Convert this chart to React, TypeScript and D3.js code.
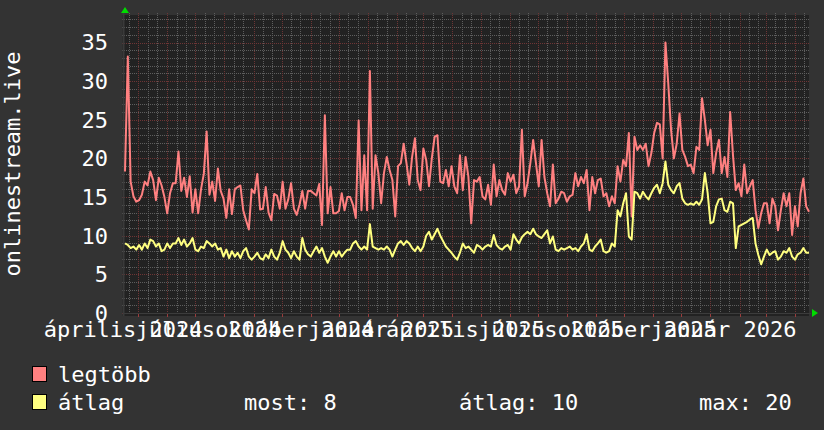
import React from "react";
import * as d3 from "d3";

const START_DATE = "2024-04-17";
const END_DATE = "2026-04-16";
const STEP_DAYS = 3;

const legtobb = [
  18.3, 33.2, 17, 15.1, 14.4, 14.6, 15.3, 17, 16.5, 18.3, 17.2, 14.6, 17.5, 16.5, 15, 12.9, 15.5, 16.8, 16.8, 20.9,
  15.8, 17.5, 15, 17.7, 13, 16, 12.9, 16, 18, 23.5, 15.3, 17, 14.5, 18.7, 15.8, 14.8, 12.3, 16, 12.8, 16,
  16.3, 16.5, 13.3, 12, 10.8, 16, 15.5, 18, 13.4, 13.5, 16.3, 13, 12, 15.4, 15.2, 13.5, 17, 13.5, 14.7, 16.8,
  13.5, 12.7, 14, 15.8, 13.5, 15.8, 15.8, 15.5, 15.2, 16.7, 11.4, 25.6, 12.9, 16.3, 12.9, 12.9, 13.2, 15.5, 13.3, 15,
  15, 14, 12.3, 24.9, 13.3, 20.4, 13.3, 31.3, 13.5, 20.4, 18.1, 14.2, 18.1, 20.2, 18.5, 17.2, 12.5, 19, 19.4, 21.9,
  19.4, 16.6, 20.2, 22.6, 17.2, 15.9, 21.3, 19.8, 16.4, 20, 22.8, 23, 17, 16.8, 18.5, 16.4, 19, 16.4, 15.5, 20.4,
  15.9, 20.2, 17.6, 11.6, 17.2, 17, 17.6, 15.1, 14.7, 16.6, 14, 19.2, 15.1, 17.2, 15.9, 15.3, 18.1, 17, 17.9, 15.5,
  16.4, 23.7, 15.1, 16.8, 19.4, 22.4, 19.4, 16.4, 22.4, 17.6, 15.5, 13.8, 19.2, 14.2, 14.8, 15.7, 15.5, 14.4, 15.1, 15.3,
  18.1, 16.4, 17.6, 16.8, 18.5, 13.3, 17.6, 15.5, 17.2, 17.4, 15.1, 15.5, 13.8, 15.1, 14.2, 19, 17, 19.8, 19, 23.3,
  12.5, 22.8, 21.1, 21.7, 21.1, 21.9, 19, 20.7, 23.3, 24.6, 24.4, 20, 35, 29.7, 23.7, 20, 21.9, 25.8, 21.1, 20.2,
  19, 19.2, 18.1, 21.5, 21.1, 27.8, 25, 21.7, 23.7, 18.1, 20.7, 22.4, 18.1, 20.2, 17.6, 26, 20.4, 15.9, 16.8, 15.1,
  19.2, 15.5, 16.4, 17.2, 13.3, 11, 12.9, 14.2, 14.2, 11.6, 14.8, 13.8, 10.7, 13.3, 15.5, 13.8, 15.5, 10.1, 13.8, 11.2,
  15.5, 17.4, 13.8, 13.1,
];

const atlag = [
  9.0, 8.8, 8.4, 8.6, 8.2, 8.8, 8.2, 9.0, 8.4, 9.5, 9.3, 8.6, 9.0, 8.0, 8.2, 9.0, 8.4, 9.0, 9.0, 9.7,
  8.8, 9.5, 8.6, 9.0, 9.7, 8.2, 8.0, 8.6, 8.4, 9.3, 9.0, 8.6, 9.0, 8.2, 8.4, 7.3, 8.2, 7.1, 8.0, 7.3,
  7.8, 7.1, 8.0, 8.4, 7.3, 6.9, 7.3, 7.8, 7.1, 6.9, 7.6, 7.1, 8.2, 7.3, 6.9, 7.8, 9.3, 8.2, 7.8, 7.1,
  8.0, 7.3, 6.9, 9.7, 8.2, 7.6, 7.3, 8.0, 8.6, 7.8, 8.4, 7.3, 6.5, 7.3, 8.0, 7.3, 8.0, 7.3, 7.8, 8.2,
  8.2, 9.0, 9.3, 8.6, 8.2, 8.6, 8.2, 11.5, 8.6, 8.4, 8.2, 8.4, 8.2, 8.6, 8.2, 7.3, 8.2, 9.0, 9.3, 8.8,
  9.3, 9.0, 8.4, 8.0, 8.6, 8.0, 8.6, 10.0, 10.5, 9.5, 10.2, 10.9, 10.0, 9.3, 8.6, 8.2, 7.8, 7.3, 6.9, 7.8,
  9.0, 8.4, 8.6, 8.2, 7.8, 8.8, 8.6, 8.2, 8.6, 8.8, 8.6, 10.1, 8.8, 8.4, 8.2, 8.6, 8.8, 8.2, 10.2, 9.5,
  9.0, 9.8, 10.2, 10.5, 10.2, 10.9, 10.2, 9.9, 9.7, 10.2, 10.7, 9.0, 9.9, 8.2, 8.0, 8.4, 8.2, 8.4, 8.6, 8.2,
  8.4, 8.0, 8.6, 9.0, 10.2, 8.2, 8.0, 8.6, 9.0, 9.5, 8.0, 7.8, 8.0, 9.0, 8.6, 13.3, 12.5, 14.2, 15.5, 9.9,
  9.5, 15.7, 15.5, 14.8, 15.7, 15.1, 14.7, 15.5, 16.2, 16.6, 15.5, 16.8, 19.6, 16.6, 15.9, 15.5, 16.4, 16.8, 14.8, 14.2,
  14.0, 14.2, 14.0, 14.4, 14.0, 14.7, 18.1, 15.5, 11.6, 11.8, 13.8, 14.7, 14.8, 13.3, 13.1, 14.4, 14.2, 8.4, 11.2, 11.4,
  11.6, 11.8, 12.1, 12.3, 9.0, 7.5, 6.3, 7.3, 8.2, 7.5, 7.8, 8.0, 6.9, 7.3, 8.0, 7.8, 8.4, 7.3, 6.9, 7.6,
  7.8, 8.4, 7.8, 7.8,
];

const yTickValues = [0, 5, 10, 15, 20, 25, 30, 35];
const xLabelDates = ["2024-04-01", "2024-07-01", "2024-10-01", "2025-01-01", "2025-04-01", "2025-07-01", "2025-10-01", "2026-01-01"];
const xLabelTexts = ["április 2024", "július 2024", "október 2024", "január 2025", "április 2025", "július 2025", "október 2025", "január 2026"];

const seriesNames = ["legtöbb", "átlag"];
const statLabels = ["most: 8", "átlag: 10", "max: 20"];

const FONT = "DejaVu Sans Mono";
const FS = 22;

export default function App() {
  const W = 824;
  const H = 430;
  const left = 125;
  const right = 809;
  const top = 15;
  const bottom = 313;

  const start = new Date(START_DATE + "T00:00:00Z");
  const end = new Date(END_DATE + "T00:00:00Z");
  const x = d3.scaleUtc().domain([start, end]).range([left, right]);
  const y = d3.scaleLinear().domain([0, 38.56]).range([bottom, top]);

  const dates = legtobb.map((_, i) => d3.utcDay.offset(start, i * STEP_DAYS));
  const line = d3
    .line<number>()
    .x((_, i) => x(dates[i]))
    .y((d) => y(d));

  const months = d3.utcMonth.range(start, end);
  const minorDays = d3.utcDay.range(start, end).filter((d) => d.getUTCDate() === 11 || d.getUTCDate() === 21);
  const minorY = d3.range(1, 39).filter((v) => v % 5 !== 0);
  const majorY = yTickValues;

  const minorColor = "#5e5e5e";
  const majorColor = "#6e3535";

  const px = (v: number) => Math.round(v) + 0.5;

  return (
    <svg width={W} height={H} style={{ position: "absolute", left: 0, top: 0, display: "block" }} fontFamily={FONT}>
      <rect x={0} y={0} width={W} height={H} fill="#333333" />
      <rect x={left - 3} y={top} width={right - left + 3} height={bottom - top + 3} fill="#222222" />

      {/* minor grid */}
      {minorY.map((v) => (
        <line key={"my" + v} x1={left - 3} x2={right} y1={px(y(v))} y2={px(y(v))} stroke={minorColor} strokeDasharray="1 1" />
      ))}
      {minorDays.map((d) => (
        <line key={"mx" + +d} x1={px(x(d))} x2={px(x(d))} y1={top - 2} y2={bottom + 2} stroke={minorColor} strokeDasharray="1 1" />
      ))}
      {/* major grid */}
      {majorY.map((v) => (
        <line key={"My" + v} x1={left - 3} x2={right} y1={px(y(v))} y2={px(y(v))} stroke={majorColor} strokeDasharray="1 1" />
      ))}
      {months.map((d) => (
        <line key={"Mx" + +d} x1={px(x(d))} x2={px(x(d))} y1={top - 2} y2={bottom} stroke={majorColor} strokeDasharray="1 1" />
      ))}
      {months.map((d) => (
        <line key={"Mt" + +d} x1={px(x(d))} x2={px(x(d))} y1={bottom} y2={bottom + 4} stroke="#9a3c3c" />
      ))}

      {/* axes */}
      <line x1={left - 2} x2={right + 2} y1={bottom + 0.5} y2={bottom + 0.5} stroke="#3c3c3c" />
      <line x1={left - 1.5} x2={left - 1.5} y1={top - 2} y2={bottom + 3} stroke="#3a3a3a" strokeWidth={2} />
      <path d={`M${left - 4},${top - 2} L${left + 4},${top - 2} L${left},${top - 8} Z`} fill="#00dd00" />
      <path d={`M${right + 3},${bottom - 4} L${right + 3},${bottom + 4} L${right + 9},${bottom} Z`} fill="#00dd00" />

      {/* data */}
      <path d={line(legtobb) || ""} fill="none" stroke="#ff8080" strokeWidth={2} strokeLinejoin="round" />
      <path d={line(atlag) || ""} fill="none" stroke="#ffff80" strokeWidth={2} strokeLinejoin="round" />

      {/* y labels */}
      {yTickValues.map((v) => (
        <text key={"yl" + v} x={108} y={y(v)} dy="0.36em" textAnchor="end" fontSize={FS} fill="#ffffff">
          {v}
        </text>
      ))}
      <text
        transform={`translate(20, ${(top + bottom) / 2}) rotate(-90)`}
        textAnchor="middle"
        fontSize={FS}
        fill="#ffffff"
      >
        onlinestream.live
      </text>

      {/* x labels */}
      {xLabelDates.map((ds, i) => {
        const d = new Date(ds + "T00:00:00Z");
        return (
          <text key={"xl" + i} x={x(d3.utcDay.offset(d, 14))} y={337} textAnchor="middle" fontSize={FS} fill="#ffffff">
            {xLabelTexts[i]}
          </text>
        );
      })}

      {/* legend */}
      <rect x={32.5} y={366.5} width={14} height={15} fill="#ff8080" stroke="#000" />
      <text x={58} y={382} fontSize={FS} fill="#ffffff">{seriesNames[0]}</text>
      <rect x={32.5} y={394.5} width={14} height={15} fill="#ffff80" stroke="#000" />
      <text x={58} y={410} fontSize={FS} fill="#ffffff">{seriesNames[1]}</text>
      <text x={244} y={410} fontSize={FS} fill="#ffffff">{statLabels[0]}</text>
      <text x={459} y={410} fontSize={FS} fill="#ffffff">{statLabels[1]}</text>
      <text x={699} y={410} fontSize={FS} fill="#ffffff">{statLabels[2]}</text>
    </svg>
  );
}
